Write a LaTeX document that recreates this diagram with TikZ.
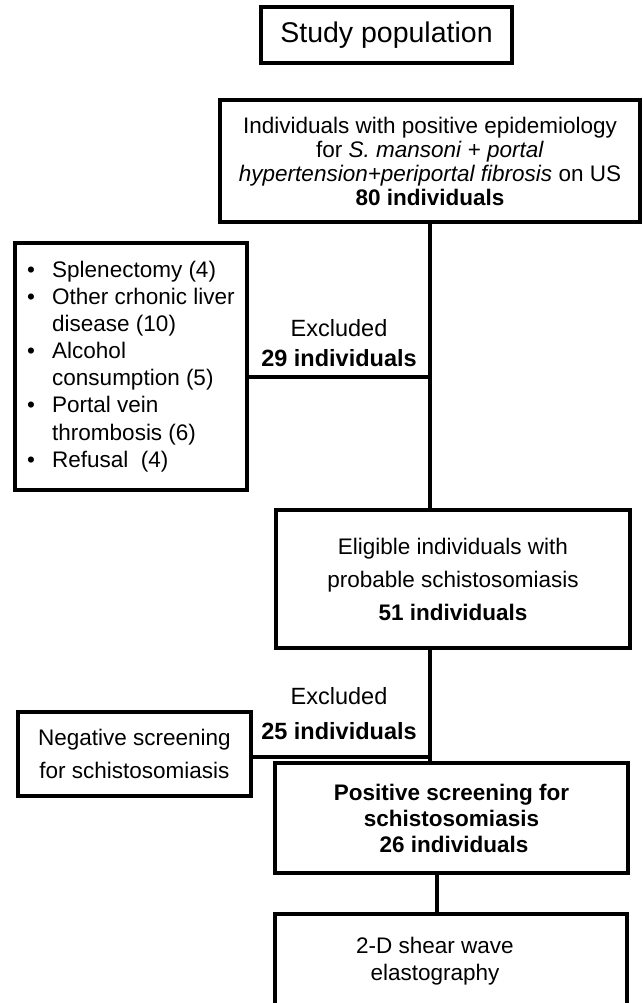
\documentclass[tikz,border=0pt]{standalone}
\usepackage{fontspec}
\setmainfont{Liberation Sans}
\usetikzlibrary{positioning}
\newcommand{\fs}[1]{\fontsize{22.5}{#1}\selectfont}
\newcommand{\bul}{\makebox[25pt][l]{•}}
\newcommand{\ind}{\hspace*{25pt}}

\begin{document}
\begin{tikzpicture}[
  x=1pt, y=-1pt,
  box/.style={draw, line width=3.5pt, inner sep=0pt, align=center},
  lab/.style={align=center, inner sep=0pt},
  conn/.style={line width=3.5pt}
]
\useasboundingbox (0,0) rectangle (642,1003);
\node[box, minimum width=251pt, minimum height=56pt, font=\fontsize{28.5}{30}\selectfont] (title) at (386.5,35) {Study population};
\node[box, minimum width=420pt, minimum height=122pt, font=\fs{24}] (top) at (430,161)
  {Individuals with positive epidemiology\\ for \textit{S. mansoni} + \textit{portal}\\ \textit{hypertension+periportal fibrosis} on US\\ \textbf{80 individuals}};
\node[box, minimum width=232pt, minimum height=247pt, align=left, font=\fs{27.1}] (causes) at (131,366.5)
  {\bul Splenectomy (4)\\ \bul Other crhonic liver\\ \ind disease (10)\\ \bul Alcohol\\ \ind consumption (5)\\ \bul Portal vein\\ \ind thrombosis (6)\\ \bul Refusal\ \ (4)};
\node[lab, font=\fontsize{23.5}{30}\selectfont] (exc1) at (339,343) {Excluded\\ \textbf{29 individuals}};
\node[box, minimum width=354pt, minimum height=138pt, font=\fs{33}] (elig) at (453,579)
  {Eligible individuals with\\ probable schistosomiasis\\ \textbf{51 individuals}};
\node[lab, font=\fontsize{23.5}{35}\selectfont] (exc2) at (339,714) {Excluded\\ \textbf{25 individuals}};
\node[box, minimum width=233pt, minimum height=84pt, font=\fs{33}] (neg) at (134.5,754)
  {Negative screening\\ for schistosomiasis};
\node[box, minimum width=353pt, minimum height=110pt, font=\fs{26}\bfseries] (pos) at (451.5,818)
  {Positive screening for\\ schistosomiasis\\ \hspace*{5pt}26 individuals};
\node[box, minimum width=352pt, minimum height=94pt, font=\fs{27}] (elasto) at (451,961)
  {2-D shear wave\hspace*{32pt}\\ elastography\hspace*{32pt}};
% connectors
\coordinate (j1) at (430,377);
\coordinate (j2) at (430,757);
\draw[conn] (top.south) -- (top.south |- elig.north);
\draw[conn] (causes.east |- j1) -- (j1);
\draw[conn] (top.south |- elig.south) -- (top.south |- pos.north);
\draw[conn] (neg.east |- j2) -- (j2);
\draw[conn] ([xshift=-14.5pt]pos.south) -- ([xshift=-14.5pt]pos.south |- elasto.north);
\end{tikzpicture}
\end{document}
